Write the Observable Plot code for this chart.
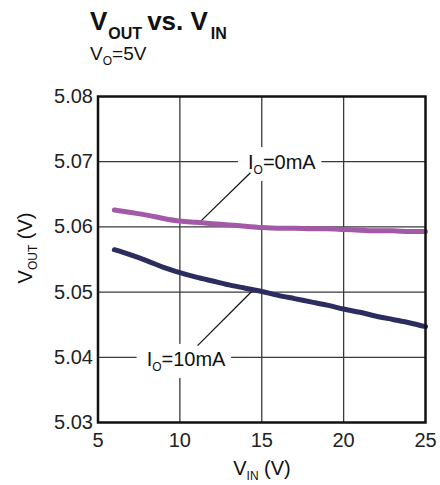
<!DOCTYPE html>
<html><head><meta charset="utf-8">
<script src="https://cdn.jsdelivr.net/npm/d3@7"></script>
<script src="https://cdn.jsdelivr.net/npm/@observablehq/plot@0.6"></script>
<style>
body{margin:0;background:#fff}
svg{font-family:"Liberation Sans",Arial,Helvetica,sans-serif}
</style>
</head><body><div id="chart"></div>
<script>
// Data
const vin = [6, 7, 8, 9, 10, 11, 12, 13, 14, 15, 16, 17, 18, 19, 20, 21, 22, 23, 24, 25];
const vout0mA  = [5.0626, 5.0622, 5.0618, 5.0613, 5.0609, 5.0607, 5.0605, 5.0603, 5.0601, 5.0599, 5.0598, 5.0598, 5.0597, 5.0597, 5.0596, 5.0595, 5.0594, 5.0594, 5.0593, 5.0593];
const vout10mA = [5.0565, 5.0557, 5.0548, 5.0538, 5.0530, 5.0523, 5.0517, 5.0511, 5.0506, 5.0501, 5.0495, 5.0490, 5.0485, 5.0480, 5.0474, 5.0469, 5.0463, 5.0458, 5.0453, 5.0447];
const xTicks = [5, 10, 15, 20, 25];
const yTicks = [5.03, 5.04, 5.05, 5.06, 5.07, 5.08];
const seriesNames = ["0mA", "10mA"];
const seriesColors = ["#A459A7", "#2B2D5E"];
// annotations: label text start (x) and baseline (y), leader line start/end
const labelX = [14.19, 8.0];
const labelY = [5.0688, 5.0386];
const leaderX1 = [14.31, 11.08], leaderY1 = [5.0683, 5.0418];
const leaderX2 = [11.2, 14.43],  leaderY2 = [5.0607, 5.0502];

const rows0 = vin.map((v, i) => ({vin: v, vout: vout0mA[i]}));
const rows10 = vin.map((v, i) => ({vin: v, vout: vout10mA[i]}));
const leaders = seriesNames.map((s, i) => ({x1: leaderX1[i], y1: leaderY1[i], x2: leaderX2[i], y2: leaderY2[i]}));

const FONT = '"Liberation Sans", Arial, sans-serif';
const svg = Plot.plot({
  width: 440, height: 485,
  marginLeft: 97.5, marginRight: 15, marginTop: 96, marginBottom: 63,
  style: {fontSize: "20px", fontFamily: FONT, color: "#222", background: "#fff"},
  x: {domain: [5, 25]},
  y: {domain: [5.03, 5.08]},
  marks: [
    Plot.gridX([10, 15, 20], {stroke: "#3a3a3a", strokeOpacity: 1, strokeWidth: 1.3}),
    Plot.gridY([5.04, 5.05, 5.06, 5.07], {stroke: "#3a3a3a", strokeOpacity: 1, strokeWidth: 1.3}),
    Plot.axisX({ticks: xTicks, tickSize: 0, tickPadding: 10, label: null, fontSize: 20}),
    Plot.axisY({ticks: yTicks, tickSize: 0, tickPadding: 5, tickFormat: d3.format(".2f"), label: null, fontSize: 20}),
    Plot.link(leaders, {x1: "x1", y1: "y1", x2: "x2", y2: "y2", stroke: "#111", strokeWidth: 1.2}),
    Plot.line(rows0, {x: "vin", y: "vout", stroke: seriesColors[0], strokeWidth: 5, curve: "monotone-x"}),
    Plot.line(rows10, {x: "vin", y: "vout", stroke: seriesColors[1], strokeWidth: 5, curve: "monotone-x"}),
    Plot.frame({stroke: "#111", strokeWidth: 2.5})
  ]
});
document.getElementById("chart").appendChild(svg);

const sx = svg.scale("x"), sy = svg.scale("y");
const root = d3.select(svg);

// Title
const t = root.append("text").attr("x", 90).attr("y", 30).attr("text-anchor", "start")
  .attr("font-family", FONT).attr("font-weight", "bold").attr("font-size", 26).attr("fill", "#111");
t.append("tspan").text("V");
t.append("tspan").attr("font-size", 16).attr("dy", 9).attr("dx", 1).text("OUT");
t.append("tspan").attr("font-size", 26).attr("dy", -9).attr("dx", 5).text("vs. V");
t.append("tspan").attr("font-size", 16).attr("dy", 9).attr("dx", 3).text("IN");

// Subtitle
const st = root.append("text").attr("x", 90).attr("y", 60).attr("text-anchor", "start")
  .attr("font-family", FONT).attr("font-size", 19).attr("fill", "#111");
st.append("tspan").text("V");
st.append("tspan").attr("font-size", 12).attr("dy", 5).text("O");
st.append("tspan").attr("font-size", 19).attr("dy", -5).text("=5V");

// Y label
const yl = root.append("text").attr("transform", "translate(32,248) rotate(-90)")
  .attr("text-anchor", "middle").attr("font-family", FONT).attr("font-size", 20).attr("fill", "#111");
yl.append("tspan").text("V");
yl.append("tspan").attr("font-size", 12).attr("dy", 5).text("OUT");
yl.append("tspan").attr("font-size", 20).attr("dy", -5).text(" (V)");

// X label
const xl = root.append("text").attr("x", 262).attr("y", 475)
  .attr("text-anchor", "middle").attr("font-family", FONT).attr("font-size", 20).attr("fill", "#111");
xl.append("tspan").text("V");
xl.append("tspan").attr("font-size", 12).attr("dy", 5).text("IN");
xl.append("tspan").attr("font-size", 20).attr("dy", -5).text(" (V)");

// Series labels with white boxes (boxes inserted below leader lines)
const linkNode = svg.querySelector('[aria-label="link"]');
seriesNames.forEach((name, i) => {
  const g = root.append("g");
  const tx = g.append("text").attr("x", sx.apply(labelX[i])).attr("y", sy.apply(labelY[i]))
    .attr("text-anchor", "start")
    .attr("font-family", FONT).attr("font-size", 20).attr("fill", "#111");
  tx.append("tspan").text("I");
  tx.append("tspan").attr("font-size", 12).attr("dy", 5).text("O");
  tx.append("tspan").attr("font-size", 20).attr("dy", -5).text("=" + name);
  const bb = tx.node().getBBox();
  const rect = document.createElementNS("http://www.w3.org/2000/svg", "rect");
  rect.setAttribute("x", bb.x - 10);
  rect.setAttribute("y", bb.y - 4);
  rect.setAttribute("width", bb.width + 15);
  rect.setAttribute("height", bb.height + 8);
  rect.setAttribute("fill", "#fff");
  svg.insertBefore(rect, linkNode);
});
</script>
</body></html>
